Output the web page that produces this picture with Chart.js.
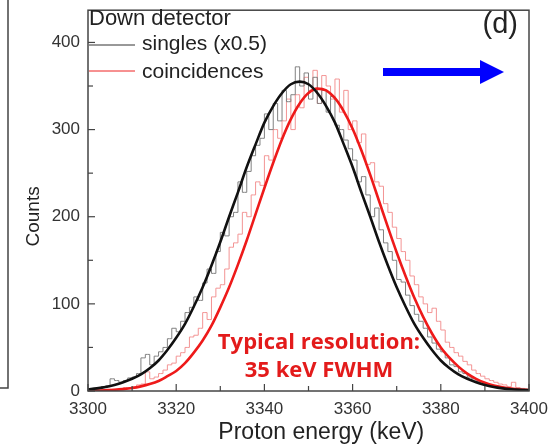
<!DOCTYPE html>
<html><head><meta charset="utf-8">
<script src="https://cdn.jsdelivr.net/npm/chart.js@4"></script>
<style>html,body{margin:0;padding:0;background:#fff}#wrap{width:558px;height:446px}</style>
</head><body><div id="wrap"><canvas id="c" width="558" height="446"></canvas></div>
<script>
// Histogram bins (keV, 1 keV bins)
const binStart = 3300;
const singlesCounts = [2,3,4,5,6,14,12,10,12,15,16,20,38,42,30,40,45,50,60,72,68,80,90,96,108,104,124,140,135,160,182,178,200,205,240,228,252,270,282,290,318,300,330,310,345,332,340,372,350,365,335,360,330,345,320,338,305,300,288,278,265,240,246,225,200,210,185,170,160,150,128,125,110,98,88,80,72,62,55,48,45,38,30,28,22,20,16,14,11,9,8,6,5,4,4,3,2,2,1,1];
const coincCounts = [0,0,0,1,1,2,2,3,4,4,5,7,8,22,14,16,20,24,30,32,40,44,50,62,64,72,90,82,108,118,122,140,165,170,180,205,200,225,240,236,270,265,300,290,310,335,300,340,325,360,345,368,330,362,350,335,358,320,345,300,310,285,295,260,262,240,235,215,205,188,175,160,150,132,122,108,100,90,95,80,70,56,50,44,40,34,30,24,20,17,14,12,10,8,7,5,10,4,3,2];
// Fit curves read every 2 keV
const fitX = [3300,3302,3304,3306,3308,3310,3312,3314,3316,3318,3320,3322,3324,3326,3328,3330,3332,3334,3336,3338,3340,3342,3344,3346,3348,3350,3352,3354,3356,3358,3360,3362,3364,3366,3368,3370,3372,3374,3376,3378,3380,3382,3384,3386,3388,3390,3392,3394,3396,3398,3400];
const singlesFit = [2,3,4.5,7,10,14,19,26,35,47,61,77,97,119,144,171,200,228,257,283,308,327,342,352,355,352,342,327,308,283,257,228,200,171,144,119,97,77,61,47,35,26,19,14,10,7,4.5,3,2,1.4,1];
const coincFit = [0.3,0.5,0.9,1.4,2.2,3.4,5.3,7.9,11.5,17,23,32,44,58,75,96,119,145,173,203,233,262,289,312,330,342,347,345,336,321,301,276,248,218,188,159,132,107,85,66,50,38,28,20,14,9.6,6.4,4.3,2.8,1.8,1.1];
const xTicks = [3300,3320,3340,3360,3380,3400];
const yTicks = [0,100,200,300,400];
const legendLabels = ['singles (x0.5)','coincidences'];

const histPts = arr => arr.map((v,i)=>({x:binStart+i+0.5,y:v}));
const fitPts = arr => arr.map((v,i)=>({x:fitX[i],y:v}));

const FONT = "'Liberation Sans', Arial, sans-serif";

const deco = {
  id:'deco',
  afterDraw(chart){
    const ctx = chart.ctx, a = chart.chartArea, xs = chart.scales.x, ys = chart.scales.y;
    ctx.save();
    // frame
    ctx.strokeStyle = '#444'; ctx.lineWidth = 1.5;
    ctx.strokeRect(a.left, a.top, a.right-a.left, a.bottom-a.top);
    // ticks (inward)
    ctx.lineWidth = 1.2;
    for (let v=3300; v<=3400; v+=10){
      const px = xs.getPixelForValue(v), len = (v%20===0)?7:5;
      ctx.beginPath(); ctx.moveTo(px,a.bottom); ctx.lineTo(px,a.bottom-len); ctx.stroke();
    }
    for (let v=0; v<=430; v+=50){
      const py = ys.getPixelForValue(v), len = (v%100===0)?7:5;
      ctx.beginPath(); ctx.moveTo(a.left,py); ctx.lineTo(a.left+len,py); ctx.stroke();
    }
    // legend
    ctx.fillStyle = '#222'; ctx.font = '22px '+FONT; ctx.textBaseline='middle'; ctx.textAlign='left';
    ctx.fillText('Down detector', a.left+1, 19);
    ctx.font = '21px '+FONT;
    ctx.strokeStyle='#333'; ctx.lineWidth=1;
    ctx.beginPath(); ctx.moveTo(a.left+1,45); ctx.lineTo(a.left+47,45); ctx.stroke();
    ctx.fillText(legendLabels[0], a.left+54, 44);
    ctx.strokeStyle='#ee2222';
    ctx.beginPath(); ctx.moveTo(a.left+1,71); ctx.lineTo(a.left+47,71); ctx.stroke();
    ctx.fillText(legendLabels[1], a.left+54, 72);
    // panel label
    ctx.font = '29px '+FONT; ctx.textAlign='right';
    ctx.fillText('(d)', a.right-11, 25);
    // resolution text
    ctx.fillStyle = '#e31b1b'; ctx.font = "bold 22px 'Open Sans', sans-serif"; ctx.textAlign='center';
    ctx.fillText('Typical resolution:', 319, 343);
    ctx.fillText('35 keV FWHM', 319, 371);
    // blue arrow
    ctx.fillStyle = '#0000ff';
    ctx.fillRect(383, 68, 98, 8);
    ctx.beginPath(); ctx.moveTo(480,60); ctx.lineTo(504,72); ctx.lineTo(480,84); ctx.closePath(); ctx.fill();
    // neighbouring panel edge
    ctx.strokeStyle='#444'; ctx.lineWidth=1.5;
    ctx.beginPath(); ctx.moveTo(8,0); ctx.lineTo(8,388); ctx.lineTo(0,388); ctx.stroke();
    ctx.restore();
  }
};

new Chart(document.getElementById('c'), {
  type:'line',
  data:{datasets:[
    {label:'singles fit', data:fitPts(singlesFit), borderColor:'#111', borderWidth:2.6, pointRadius:0, tension:0.4, cubicInterpolationMode:'monotone'},
    {label:'coincidences fit', data:fitPts(coincFit), borderColor:'#ee1a1a', borderWidth:2.6, pointRadius:0, tension:0.4, cubicInterpolationMode:'monotone'},
    {label:legendLabels[0], data:histPts(singlesCounts), borderColor:'#808080', borderWidth:1, pointRadius:0, stepped:'middle'},
    {label:legendLabels[1], data:histPts(coincCounts), borderColor:'#f39494', borderWidth:1, pointRadius:0, stepped:'middle'}
  ]},
  options:{
    responsive:false, animation:false,
    layout:{padding:{left:0,right:29,top:8,bottom:0}},
    plugins:{legend:{display:false},tooltip:{enabled:false}},
    scales:{
      x:{type:'linear',min:3300,max:3400,
        grid:{display:false}, border:{display:false},
        ticks:{stepSize:20,color:'#333',font:{family:FONT,size:17},padding:0,maxRotation:0,
          callback:v=>xTicks.includes(v)?String(v):''},
        title:{display:true,text:'    Proton energy (keV)',color:'#222',font:{family:FONT,size:23},padding:{top:0,bottom:0}},
        afterFit:s=>{s.height=55;}
      },
      y:{type:'linear',min:0,max:437,
        grid:{display:false}, border:{display:false},
        afterBuildTicks:s=>{s.ticks=s.ticks.filter(t=>yTicks.includes(t.value));},
        ticks:{stepSize:100,color:'#333',font:{family:FONT,size:17},padding:0},
        title:{display:true,text:'Counts      ',color:'#222',font:{family:FONT,size:19},padding:{top:22,bottom:0}},
        afterFit:s=>{s.width=88;}
      }
    }
  },
  plugins:[deco]
});
</script></body></html>
